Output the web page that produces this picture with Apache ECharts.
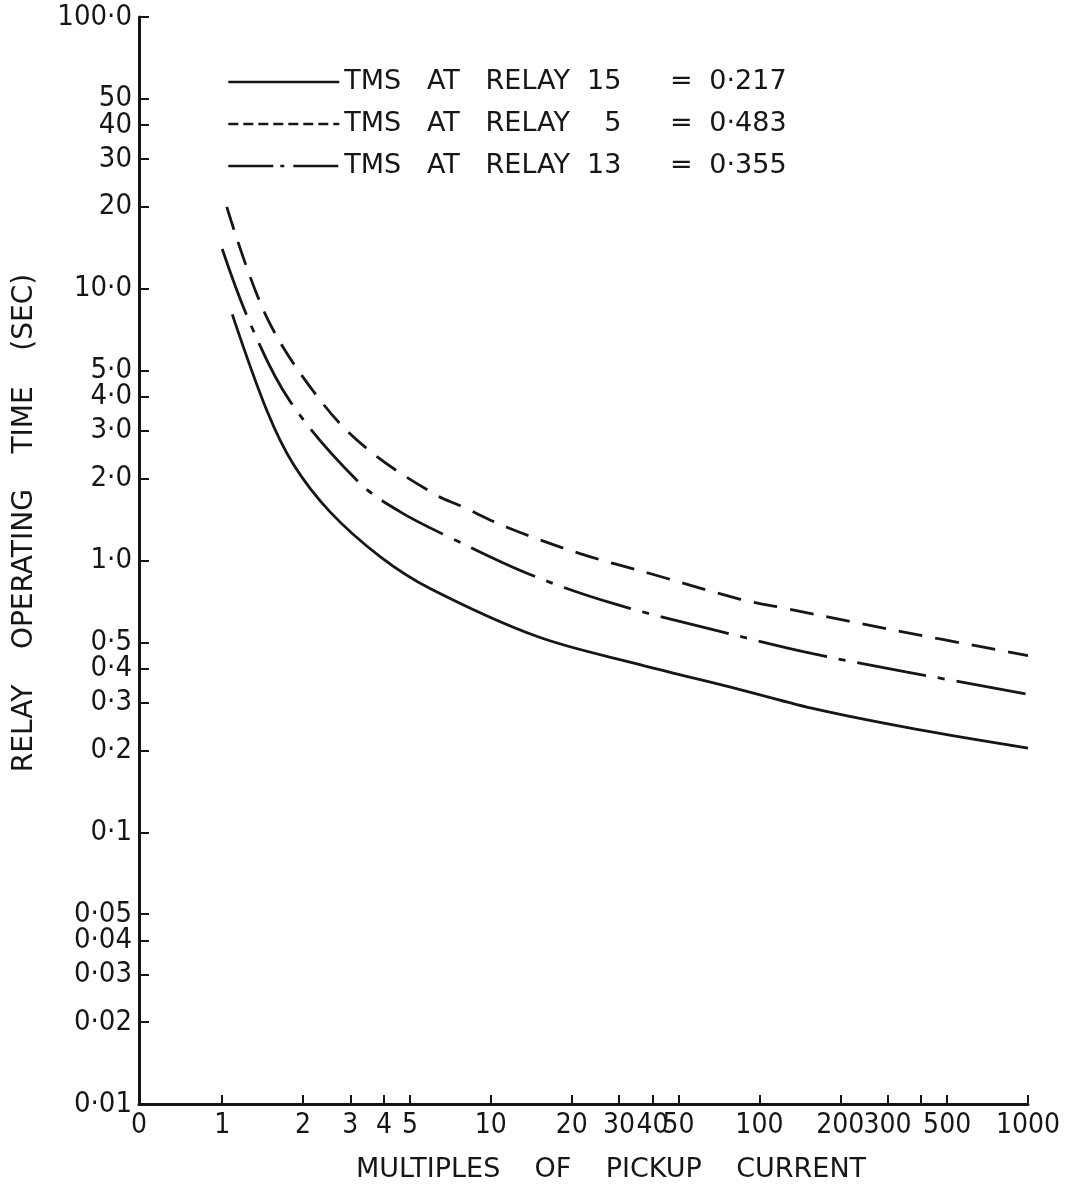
<!DOCTYPE html>
<html>
<head>
<meta charset="utf-8">
<script src="https://cdn.jsdelivr.net/npm/echarts@6/dist/echarts.min.js"></script>
<style>
html,body{margin:0;padding:0;background:#ffffff;}
#chart{width:1070px;height:1198px;}
</style>
</head>
<body>
<div id="chart"></div>
<script>
// ---- axis ticks and labels ----
const xMin = 0.49;
const xMax = 1000;
const xTickValues = [1, 2, 3, 4, 5, 10, 20, 30, 40, 50, 100, 200, 300, 400, 500, 1000];
const xLabelValues = [0.49, 1, 2, 3, 4, 5, 10, 20, 30, 40, 50, 100, 200, 300, 500, 1000];
const xLabelTexts = ['0', '1', '2', '3', '4', '5', '10', '20', '30', '40', '50', '100', '200', '300', '500', '1000'];

const yMin = 0.01;
const yMax = 100;
const yTickValues = [0.01, 0.02, 0.03, 0.04, 0.05, 0.1, 0.2, 0.3, 0.4, 0.5, 1, 2, 3, 4, 5, 10, 20, 30, 40, 50, 100];
const yLabelTexts = ['0·01', '0·02', '0·03', '0·04', '0·05', '0·1', '0·2', '0·3', '0·4', '0·5', '1·0', '2·0', '3·0', '4·0', '5·0', '10·0', '20', '30', '40', '50', '100·0'];

// ---- series ----
const seriesNames = ['TMS AT RELAY 15', 'TMS AT RELAY 5', 'TMS AT RELAY 13'];
const legendTexts = ['TMS   AT   RELAY  15', 'TMS   AT   RELAY    5', 'TMS   AT   RELAY  13'];
const tmsValues = ['0·217', '0·483', '0·355'];

// relay 15, TMS 0.217 (solid)
const relay15X = [1.09, 1.47, 1.84, 2.52, 3.87, 5.94, 14.9, 35.9, 84.7, 164, 386, 1000];
const relay15Y = [8.05, 3.54, 2.26, 1.51, 1.034, 0.789, 0.525, 0.414, 0.335, 0.283, 0.239, 0.204];
// relay 5, TMS 0.483 (dashed)
const relay5X = [1.04, 1.47, 2.36, 3.56, 6.2, 7.7, 11.6, 21.5, 40, 85, 122, 300, 1000];
const relay5Y = [20.0, 7.8, 3.8, 2.52, 1.75, 1.59, 1.32, 1.06, 0.89, 0.72, 0.67, 0.56, 0.447];
// relay 13, TMS 0.355 (dash-dot)
const relay13X = [1.0, 1.27, 1.79, 3.21, 4.6, 7.18, 14.0, 28.5, 69.5, 158, 363, 1000];
const relay13Y = [14.0, 7.46, 3.85, 1.95, 1.51, 1.205, 0.888, 0.695, 0.552, 0.454, 0.387, 0.322];

// ---- helpers ----
function zip(xs, ys) { return xs.map((x, i) => [x, ys[i]]); }
function nearestText(v, vals, texts) {
  let best = 0, bd = Infinity;
  const lv = Math.log10(v);
  for (let i = 0; i < vals.length; i++) {
    const d = Math.abs(lv - Math.log10(vals[i]));
    if (d < bd) { bd = d; best = i; }
  }
  return texts[best];
}

const INK = '#161616';
const TICK_FONT = "'DejaVu Sans Condensed', 'DejaVu Sans', sans-serif";
const TEXT_FONT = "'DejaVu Sans', sans-serif";

const chart = echarts.init(document.getElementById('chart'), null, { renderer: 'canvas' });

const legendRich = {
  a: { width: 320, fontSize: 27, fontFamily: TEXT_FONT, color: INK },
  e: { width: 34, align: 'center', fontSize: 27, fontFamily: TEXT_FONT, color: INK },
  v: { fontSize: 27, fontFamily: TEXT_FONT, color: INK, padding: [0, 0, 0, 11] }
};

const option = {
  backgroundColor: '#ffffff',
  animation: false,
  grid: { left: 139, right: 42, top: 17, bottom: 94, containLabel: false, outerBoundsMode: 'none' },
  xAxis: {
    type: 'log',
    logBase: 10,
    min: xMin,
    max: xMax,
    axisLine: { show: true, lineStyle: { color: INK, width: 3 } },
    axisTick: { show: true, inside: true, length: 9, customValues: xTickValues, lineStyle: { color: INK, width: 2 } },
    axisLabel: {
      show: true,
      customValues: xLabelValues,
      margin: 8,
      color: INK,
      fontSize: 28,
      fontFamily: TICK_FONT,
      formatter: (v) => nearestText(v, xLabelValues, xLabelTexts)
    },
    splitLine: { show: false },
    minorTick: { show: false }
  },
  yAxis: {
    type: 'log',
    logBase: 10,
    min: yMin,
    max: yMax,
    axisLine: { show: true, lineStyle: { color: INK, width: 3 } },
    axisTick: { show: true, inside: true, length: 10, customValues: yTickValues, lineStyle: { color: INK, width: 2 } },
    axisLabel: {
      show: true,
      customValues: yTickValues,
      margin: 7,
      color: INK,
      fontSize: 29,
      fontFamily: TICK_FONT,
      formatter: (v) => nearestText(v, yTickValues, yLabelTexts)
    },
    splitLine: { show: false },
    minorTick: { show: false }
  },
  legend: {
    orient: 'vertical',
    left: 227,
    top: 67,
    padding: 0,
    itemWidth: 111,
    itemHeight: 14,
    itemGap: 12,
    selectedMode: false,
    itemStyle: { opacity: 0 },
    data: [
      { name: seriesNames[0], lineStyle: { type: 'solid', width: 2.4, color: INK } },
      { name: seriesNames[1], lineStyle: { type: [10, 5], width: 2.6, color: INK } },
      { name: seriesNames[2], lineStyle: { type: [45, 7, 4, 9], width: 2.4, color: INK } }
    ],
    formatter: (name) => {
      const i = seriesNames.indexOf(name);
      return '{a|' + legendTexts[i] + '}{e|=}{v|' + tmsValues[i] + '}';
    },
    textStyle: { color: INK, fontSize: 27, fontFamily: TEXT_FONT, lineHeight: 30, rich: legendRich }
  },
  graphic: [
    {
      type: 'text',
      x: 25, y: 523,
      rotation: Math.PI / 2,
      style: {
        text: 'RELAY    OPERATING    TIME    (SEC)',
        fill: INK,
        font: "28px 'DejaVu Sans', sans-serif",
        textAlign: 'center',
        textVerticalAlign: 'middle'
      }
    },
    {
      type: 'text',
      x: 611, y: 1170,
      style: {
        text: 'MULTIPLES    OF    PICKUP    CURRENT',
        fill: INK,
        font: "27px 'DejaVu Sans', sans-serif",
        textAlign: 'center',
        textVerticalAlign: 'middle'
      }
    }
  ],
  series: [
    {
      name: seriesNames[0], type: 'line', symbol: 'none', smooth: 0.35,
      data: zip(relay15X, relay15Y),
      lineStyle: { color: INK, width: 2.8, type: 'solid' }
    },
    {
      name: seriesNames[1], type: 'line', symbol: 'none', smooth: 0.35,
      data: zip(relay5X, relay5Y),
      lineStyle: { color: INK, width: 2.8, type: [24, 13] }
    },
    {
      name: seriesNames[2], type: 'line', symbol: 'none', smooth: 0.35,
      data: zip(relay13X, relay13Y),
      lineStyle: { color: INK, width: 2.8, type: [70, 12, 7, 12] }
    }
  ]
};

chart.setOption(option);
</script>
</body>
</html>
